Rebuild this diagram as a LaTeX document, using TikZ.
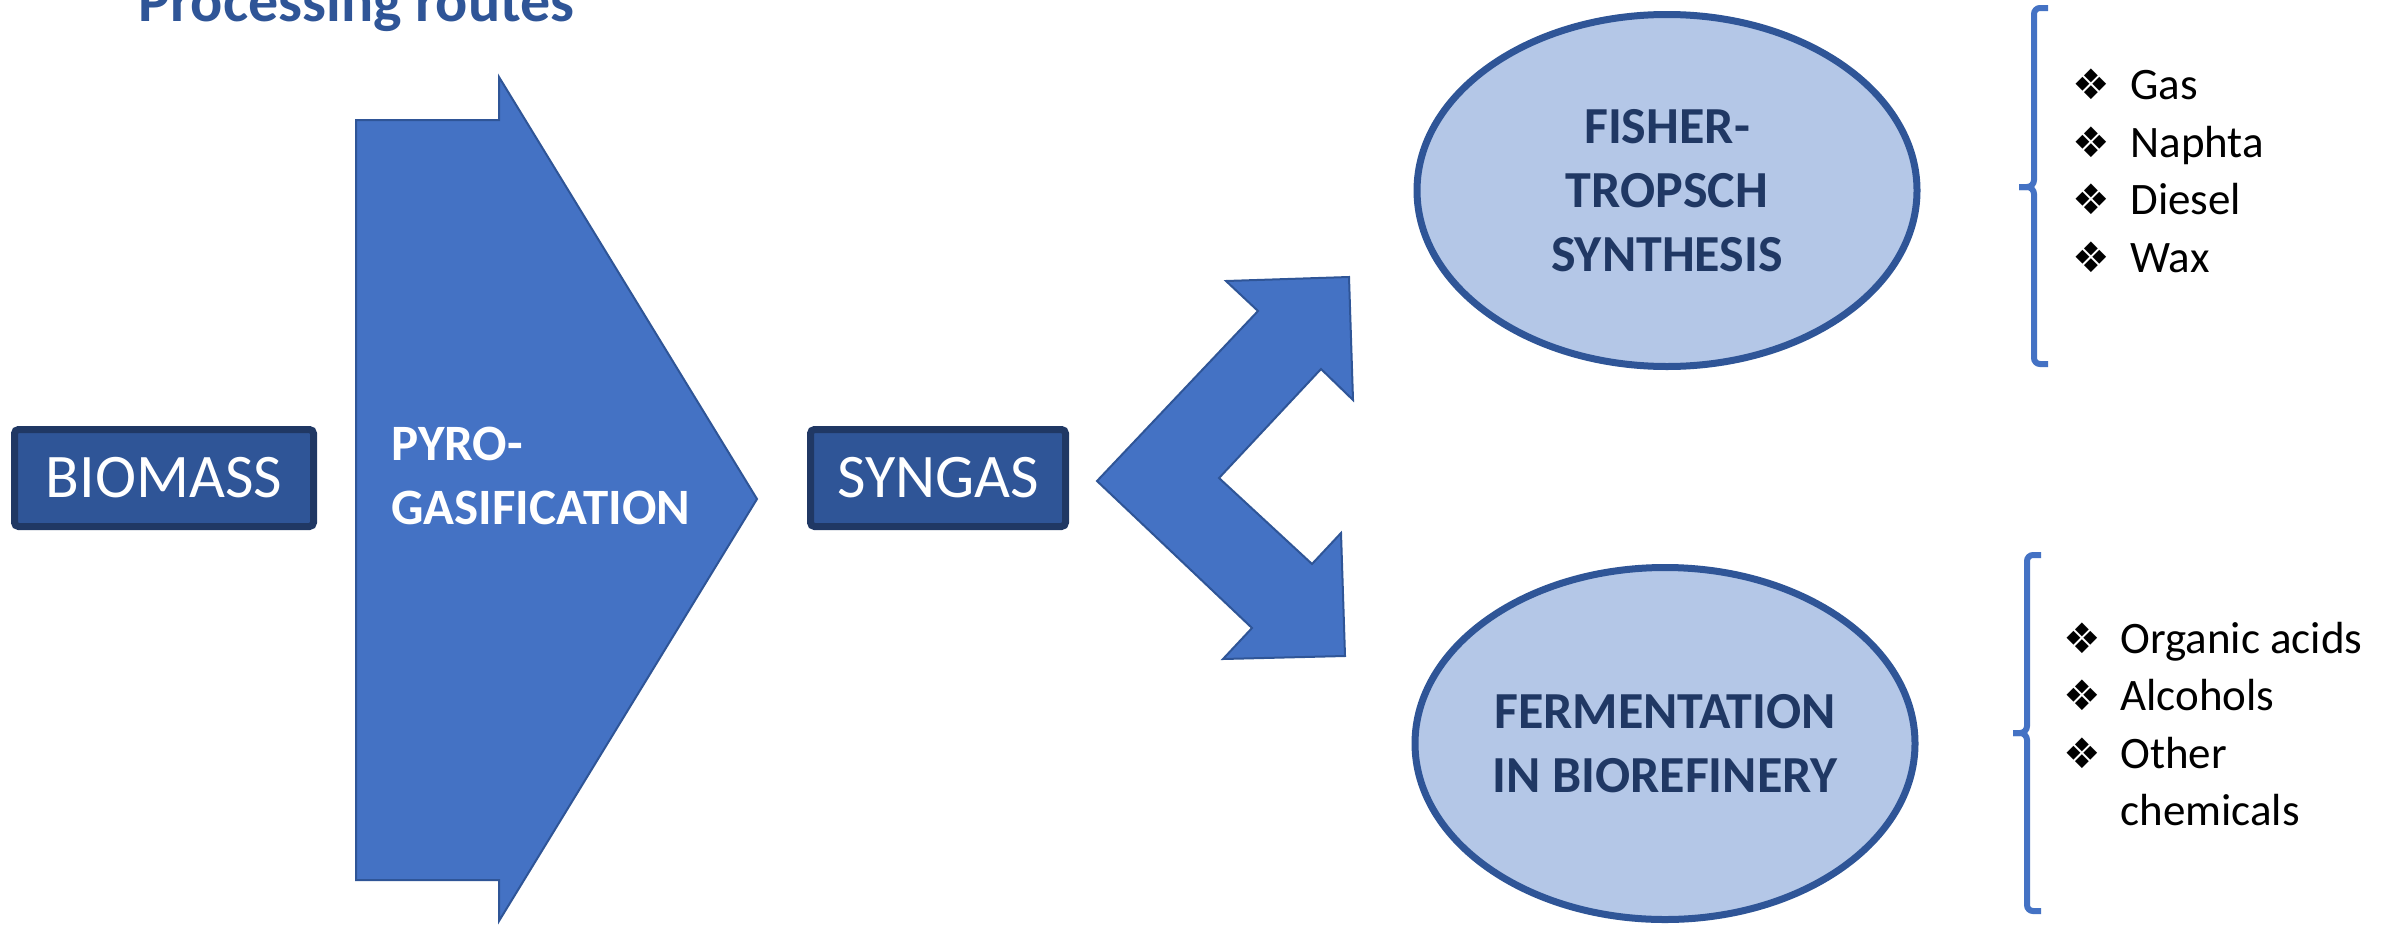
\documentclass[tikz,border=0pt]{standalone}
\usepackage{fontspec}
\setmainfont{Carlito}
\newfontfamily\dejavu{DejaVu Sans}
\usetikzlibrary{shapes.geometric}
\definecolor{boxfill}{HTML}{2F5597}
\definecolor{boxline}{HTML}{203864}
\definecolor{arrowfill}{HTML}{4472C4}
\definecolor{arrowline}{HTML}{2F5597}
\definecolor{ellfill}{HTML}{B4C7E7}
\definecolor{elltext}{HTML}{203864}
\definecolor{brkcol}{HTML}{4472C4}
\begin{document}
\begin{tikzpicture}[x=0.5pt,y=-0.5pt,
  box/.style={draw=boxline, fill=boxfill, line width=3.5pt, rounded corners=2pt,
    minimum height=48.5pt, inner sep=0pt, text=white, font=\fontsize{31}{37}\selectfont},
  bigarrow/.style={fill=arrowfill, draw=arrowline, line width=1pt, line join=miter},
  ell/.style={ellipse, draw=arrowline, fill=ellfill, line width=3.5pt,
    minimum width=250pt, minimum height=176pt, inner sep=0pt, align=center,
    text=elltext, font=\bfseries\fontsize{26}{32}\selectfont},
  brk/.style={draw=brkcol, line width=3pt},
  item/.style={anchor=base west, inner sep=0pt, font=\fontsize{22.5}{27}\selectfont},
  bul/.style={anchor=base west, inner sep=0pt, font=\dejavu\fontsize{21}{25}\selectfont}
]
\useasboundingbox (0,0) rectangle (2407,926);
\fill[white] (0,0) rectangle (2407,926);

% title
\node[anchor=base west, inner sep=0pt, text=boxfill, font=\bfseries\fontsize{30}{36}\selectfont]
  (title) at (138,21) {Processing routes};

% pyro-gasification arrow
\draw[bigarrow] (356,120) -- (499,120) -- (499,77) -- (757,499) -- (499,921) -- (499,880) -- (356,880) -- cycle;
\node[anchor=west, inner sep=0pt, align=left, text=white, font=\bfseries\fontsize{25.5}{32}\selectfont]
  (pyro) at (391,476) {PYRO-\\GASIFICATION};

% boxes
\node[box, minimum width=149.5pt] (biomass) at (164,478) {BIOMASS};
\node[box, minimum width=127.5pt] (syngas) at (938,478) {SYNGAS};

% split arrow
\draw[bigarrow] (1097,481) -- (1258,311) -- (1226,281) -- (1349,277) -- (1353,400)
  -- (1321,369) -- (1219,478) -- (1312,564) -- (1341,533) -- (1345,656)
  -- (1223,659) -- (1252,628) -- cycle;

% ellipses
\node[ell] (ft) at (1667,190.5) {FISHER-\\TROPSCH\\SYNTHESIS};
\node[ell] (fb) at (1665,743.5) {FERMENTATION\\IN BIOREFINERY};

% brackets
\draw[brk] (2048,8) -- (2040,8) to[out=180,in=90] (2034,14) -- (2034,180)
  to[out=-90,in=0] (2027,187) -- (2019,187);
\draw[brk] (2019,187) -- (2027,187) to[out=0,in=90] (2034,194) -- (2034,358)
  to[out=-90,in=180] (2040,364) -- (2048,364);
\draw[brk] (2041,555) -- (2033,555) to[out=180,in=90] (2027,561) -- (2027,726)
  to[out=-90,in=0] (2020,733) -- (2013,733);
\draw[brk] (2013,733) -- (2020,733) to[out=0,in=90] (2027,740) -- (2027,905)
  to[out=-90,in=180] (2033,911) -- (2041,911);

% upper list
\node[bul] (b1) at (2072,99) {❖};
\node[item] (gas) at (2130,99) {Gas};
\node[bul] (b2) at (2072,157) {❖};
\node[item] (naphta) at (2130,157) {Naphta};
\node[bul] (b3) at (2072,214) {❖};
\node[item] (diesel) at (2130,214) {Diesel};
\node[bul] (b4) at (2072,272) {❖};
\node[item] (wax) at (2130,272) {Wax};

% lower list
\node[bul] (c1) at (2063,653) {❖};
\node[item] (organic) at (2120,653) {Organic acids};
\node[bul] (c2) at (2063,710) {❖};
\node[item] (alcohols) at (2120,710) {Alcohols};
\node[bul] (c3) at (2063,768) {❖};
\node[item] (other) at (2120,768) {Other};
\node[item] (chemicals) at (2120,825) {chemicals};
\end{tikzpicture}
\end{document}
